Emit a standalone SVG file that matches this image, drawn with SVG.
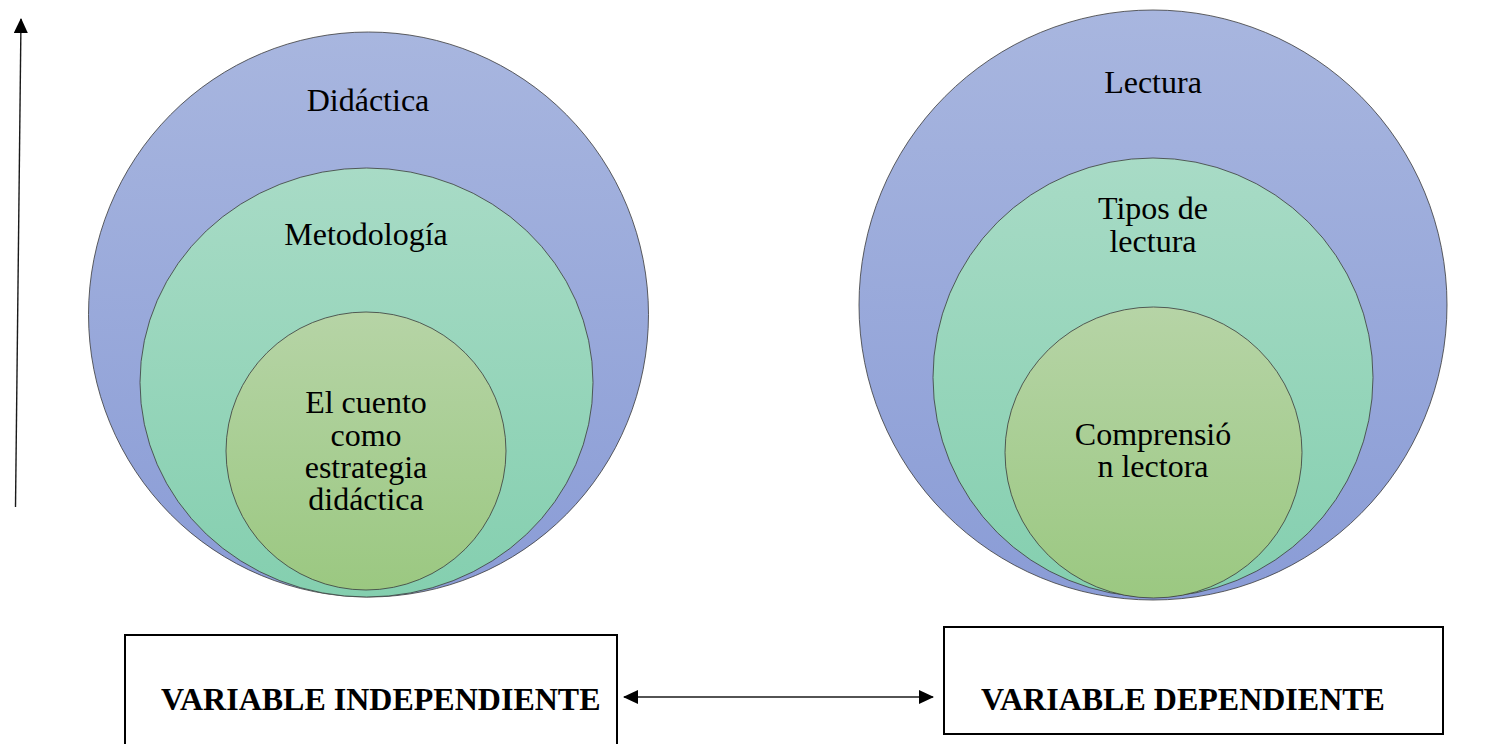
<svg xmlns="http://www.w3.org/2000/svg" width="1510" height="744" viewBox="0 0 1510 744">
  <defs>
    <linearGradient id="gBlue" x1="0" y1="0" x2="0" y2="1">
      <stop offset="0" stop-color="#A8B6DF"/>
      <stop offset="1" stop-color="#8A9CD6"/>
    </linearGradient>
    <linearGradient id="gTeal" x1="0" y1="0" x2="0" y2="1">
      <stop offset="0" stop-color="#A8DBC6"/>
      <stop offset="1" stop-color="#84CFAF"/>
    </linearGradient>
    <linearGradient id="gGreen" x1="0" y1="0" x2="0" y2="1">
      <stop offset="0" stop-color="#B6D4A6"/>
      <stop offset="1" stop-color="#9BC881"/>
    </linearGradient>
    <marker id="arrow" viewBox="0 0 15 14" refX="14" refY="7" markerWidth="15" markerHeight="14" markerUnits="userSpaceOnUse" orient="auto-start-reverse">
      <path d="M0,0 L15,7 L0,14 Z" fill="#000"/>
    </marker>
    <style>
      .outer { fill: url(#gBlue); stroke: #3a3a3a; stroke-width: 0.8; }
      .mid { fill: url(#gTeal); stroke: #3a3a3a; stroke-width: 0.8; }
      .inner { fill: url(#gGreen); stroke: #3a3a3a; stroke-width: 0.8; }
      .lbl { font-family: "Liberation Serif", "Times New Roman", serif; font-size: 32px; fill: #000; text-anchor: middle; }
      .box { fill: #fff; stroke: #000; stroke-width: 2; }
      .boxt { font-family: "Liberation Serif", "Times New Roman", serif; font-size: 32px; font-weight: bold; fill: #000; }
      .conn { stroke: #1a1a1a; stroke-width: 1.4; fill: none; }
    </style>
  </defs>

  <g id="left-circles">
    <g id="didactica">
      <ellipse class="outer" cx="368.5" cy="314.5" rx="280" ry="282.5"/>
      <text class="lbl" x="368" y="111">Didáctica</text>
    </g>
    <g id="metodologia">
      <ellipse class="mid" cx="366.5" cy="382.5" rx="226.5" ry="214.5"/>
      <text class="lbl" x="366" y="245">Metodología</text>
    </g>
    <g id="cuento">
      <ellipse class="inner" cx="366" cy="451" rx="140" ry="139"/>
      <text class="lbl" x="366" y="413">El cuento</text>
      <text class="lbl" x="366" y="446">como</text>
      <text class="lbl" x="366" y="478">estrategia</text>
      <text class="lbl" x="366" y="510">didáctica</text>
    </g>
  </g>

  <g id="right-circles">
    <g id="lectura">
      <ellipse class="outer" cx="1153" cy="305" rx="294" ry="295"/>
      <text class="lbl" x="1153" y="93">Lectura</text>
    </g>
    <g id="tipos">
      <ellipse class="mid" cx="1153" cy="377.5" rx="220" ry="219.5"/>
      <text class="lbl" x="1153" y="219">Tipos de</text>
      <text class="lbl" x="1153" y="252">lectura</text>
    </g>
    <g id="comprension">
      <ellipse class="inner" cx="1153.5" cy="452.5" rx="148.5" ry="145.5"/>
      <text class="lbl" x="1153" y="445">Comprensió</text>
      <text class="lbl" x="1153" y="477">n lectora</text>
    </g>
  </g>

  <g id="box-independiente">
    <rect class="box" x="125" y="635" width="492" height="120"/>
    <text class="boxt" x="161" y="710">VARIABLE INDEPENDIENTE</text>
  </g>
  <g id="box-dependiente">
    <rect class="box" x="944" y="627" width="499" height="107"/>
    <text class="boxt" x="981" y="710">VARIABLE DEPENDIENTE</text>
  </g>

  <g id="connectors">
    <line class="conn" x1="15.5" y1="507" x2="21" y2="19" marker-end="url(#arrow)"/>
    <line class="conn" x1="624" y1="697" x2="933" y2="697" marker-start="url(#arrow)" marker-end="url(#arrow)"/>
  </g>
</svg>
